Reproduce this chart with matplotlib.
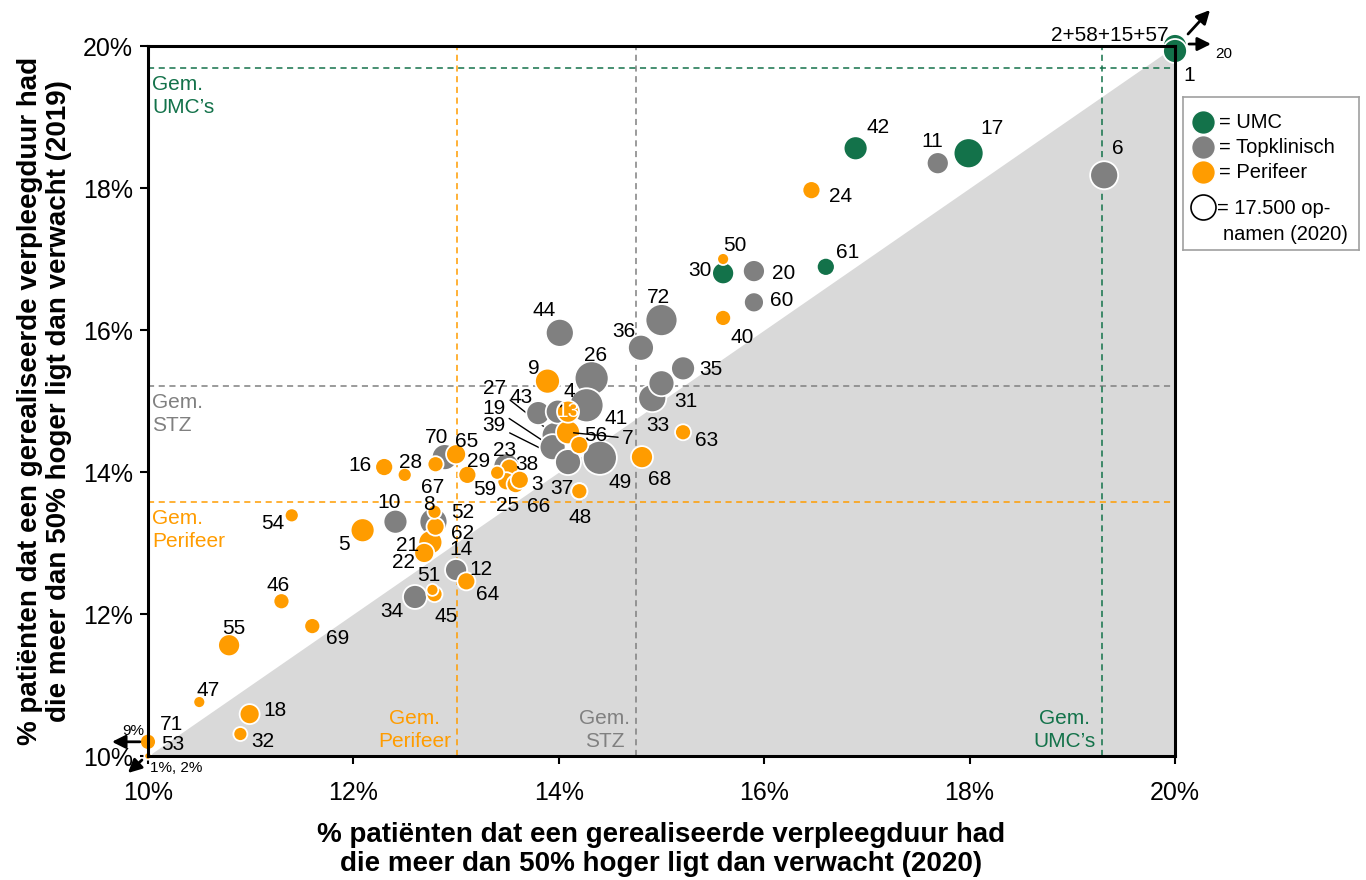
import numpy as np
import matplotlib.pyplot as plt

plt.rcParams["font.family"] = ["Liberation Sans", "DejaVu Sans"]

# --- data: % long stays 2020 (x) vs 2019 (y), admissions 2020, hospital type ---
LABELS = [42, 17, 30, 61,
          11, 6, 20, 60, 72, 44, 36, 26, 35, 31, 33, 43, 41, 4, 27, 19, 39, 49,
          70, 23, 10, 8, 14, 34,
          9, 13, 7, 56, 63, 68, 37, 48, 65, 16, 28, 67, 29, 59, 38, 25, 66, 3,
          5, 52, 62, 21, 22, 12, 45, 51, 54, 46, 69, 55, 47, 18, 32, 24, 50, 40]
X_2020 = [16.89, 17.99, 15.60, 16.60,
          17.69, 19.31, 15.90, 15.90, 15.00, 14.01, 14.80, 14.32, 15.21, 15.00, 14.91,
          13.80, 14.27, 13.99, 13.96, 13.94, 14.09, 14.40,
          12.89, 13.49, 12.41, 12.78, 13.00, 12.60,
          13.89, 14.09, 14.09, 14.20, 15.21, 14.81, 14.20, 14.20, 13.00, 12.30, 12.50,
          12.80, 13.11, 13.40, 13.52, 13.49, 13.58, 13.62,
          12.09, 12.79, 12.80, 12.75, 12.69, 13.10, 12.79, 12.77, 11.40, 11.30, 11.60,
          10.79, 10.50, 10.99, 10.90, 16.46, 15.60, 15.60]
Y_2019 = [18.56, 18.49, 16.80, 16.89,
          18.35, 18.18, 16.83, 16.39, 16.14, 15.96, 15.75, 15.32, 15.46, 15.25, 15.04,
          14.83, 14.94, 14.85, 14.52, 14.35, 14.14, 14.20,
          14.21, 14.08, 13.30, 13.30, 12.62, 12.24,
          15.28, 14.85, 14.56, 14.38, 14.56, 14.21, 13.73, 13.73, 14.25, 14.07, 13.96,
          14.11, 13.96, 13.99, 14.06, 13.87, 13.83, 13.89,
          13.18, 13.44, 13.23, 13.01, 12.86, 12.46, 12.28, 12.34, 13.39, 12.18, 11.83,
          11.56, 10.76, 10.59, 10.31, 17.97, 17.00, 16.17]
ADMISSIONS = [16100, 25200, 13600, 9100,
              13600, 22000, 13600, 11200, 28700, 22000, 18900, 32400, 16100, 18900, 22000,
              16100, 32400, 16100, 18900, 18900, 18900, 32400,
              18900, 18900, 16100, 22000, 13600, 16100,
              17500, 13600, 16100, 9100, 7200, 13600, 7200, 7200, 11200, 9100, 5500,
              7200, 9100, 5500, 9100, 9100, 9100, 9100,
              16100, 5500, 9100, 16100, 11200, 9100, 7200, 4000, 5500, 7200, 7200,
              13600, 4000, 11200, 5500, 9100, 4000, 7200]
TYPES = ["UMC"] * 4 + ["STZ"] * 24 + ["PER"] * 36

# hospitals outside the 10-20% window (drawn on the frame)
TOP_RIGHT_Y = [20.0, 19.93]
TOP_RIGHT_ADM = [16100, 16100]
CORNER_Y = [10.20, 10.0]
CORNER_ADM = [7200, 1500]

# averages per hospital type
AVG_X = {"UMC": 19.29, "STZ": 14.75, "PER": 13.01}
AVG_Y = {"UMC": 19.69, "STZ": 15.21, "PER": 13.58}

COLORS = {"UMC": "#13724a", "STZ": "#808080", "PER": "#ff9c00"}
NAMES = {"UMC": "UMC’s", "STZ": "STZ", "PER": "Perifeer"}
REF_ADM = 17500
REF_S = 324.0  # marker area (pt^2) for 17.500 admissions
FS = 15

# label offsets in pixels (dx, dy-down) relative to the bubble centre
LABEL_OFFSETS = {
    42: (22, -21), 17: (23, -25), 30: (-23, -3), 61: (22, -14), 11: (-6, -22),
    6: (14, -27), 20: (30, 2), 60: (28, -2), 72: (-3, -23), 44: (-16, -22),
    36: (-17, -16), 26: (4, -23), 35: (28, 1), 31: (24, 18), 33: (6, 27),
    9: (-14, -13), 43: (-17, -16), 41: (30, 13), 49: (20, 25), 63: (24, 8),
    68: (18, 22), 37: (-17, -3), 48: (1, 26), 70: (-8, -20), 65: (11, -13),
    16: (-24, -2), 28: (6, -12), 67: (-3, 23), 29: (11, -13), 23: (-2, -16),
    59: (-12, 17), 38: (17, -3), 3: (17, 5), 25: (1, 24), 66: (23, 22),
    10: (-6, -19), 5: (-19, 14), 8: (-5, -17), 52: (28, 1), 62: (27, 7),
    21: (-23, 3), 22: (-21, 10), 14: (5, -20), 12: (15, -12), 64: (21, 13),
    34: (-23, 15), 51: (-4, -14), 45: (12, 22), 54: (-19, 8), 46: (-3, -16),
    69: (25, 12), 55: (5, -17), 47: (9, -12), 18: (25, -4), 32: (22, 8),
    24: (29, 6), 50: (12, -14), 40: (19, 20), 56: (16, -10), 13: (0, 0),
}
# labels connected with a leader line: label -> (dx, dy) of the text, line goes under bubbles
LEADER_UNDER = {27: (-60, -47), 19: (-59, -39), 39: (-74, -37)}
LEADER_OVER = {4: (12, -20), 7: (60, 6)}


def main() -> None:
    fig = plt.figure(figsize=(13.66, 8.8), dpi=100)
    ax = fig.add_axes([0.1083, 0.1409, 0.7519, 0.8068])
    ax.set_xlim(10, 20)
    ax.set_ylim(10, 20)

    ax.fill_between([10, 20], [10, 10], [10, 20], color="#d9d9d9", lw=0, zorder=0)

    # average lines + captions
    for key in ["PER", "STZ", "UMC"]:
        c = COLORS[key]
        ax.axvline(AVG_X[key], color=c, ls=(0, (4, 3)), lw=1.1, zorder=1)
        ax.axhline(AVG_Y[key], color=c, ls=(0, (4, 3)), lw=1.1, zorder=1)
        txt = f"Gem.\n{NAMES[key]}"
        ax.annotate(txt, (10, AVG_Y[key]), xytext=(4, -7), textcoords="offset pixels",
                    ha="left", va="top", color=c, fontsize=15, linespacing=1.25)
        ax.annotate(txt, (AVG_X[key], 10), xytext=(-6, 5), textcoords="offset pixels",
                    ha="right", va="bottom", color=c, fontsize=15, linespacing=1.25,
                    multialignment="center")

    x = np.array(X_2020)
    y = np.array(Y_2019)
    adm = np.array(ADMISSIONS, dtype=float)
    types = np.array(TYPES)
    for key, z in [("STZ", 3), ("UMC", 4), ("PER", 5)]:
        m = types == key
        order = np.argsort(-adm[m], kind="stable")
        ax.scatter(x[m][order], y[m][order], s=adm[m][order] * REF_S / REF_ADM,
                   color=COLORS[key], edgecolors="white", linewidths=1.3, zorder=z)

    # off-window hospitals on the frame
    ax.scatter([20] * 2, TOP_RIGHT_Y, s=np.array(TOP_RIGHT_ADM) * REF_S / REF_ADM,
               color=COLORS["UMC"], edgecolors="white", linewidths=1.3, zorder=6, clip_on=False)
    ax.scatter([10] * 2, CORNER_Y, s=np.array(CORNER_ADM) * REF_S / REF_ADM,
               color=COLORS["PER"], edgecolors="white", linewidths=1.3, zorder=6, clip_on=False)

    lab_kw = dict(textcoords="offset pixels", ha="center", va="center", fontsize=FS,
                  annotation_clip=False)
    pos = {lab: (xi, yi) for lab, xi, yi in zip(LABELS, X_2020, Y_2019)}
    for lab, (dx, dy) in LABEL_OFFSETS.items():
        xy = pos[12] if lab == 64 else pos[lab]
        color = "white" if lab == 13 else "black"
        ax.annotate(str(lab), xy, xytext=(dx, -dy), color=color, zorder=8, **lab_kw)
    for lab, (dx, dy) in LEADER_UNDER.items():
        ax.annotate(str(lab), pos[lab], xytext=(dx, -dy), zorder=2.5,
                    arrowprops=dict(arrowstyle="-", color="black", lw=1.0,
                                    shrinkA=1, shrinkB=0), **lab_kw)
    for lab, (dx, dy) in LEADER_OVER.items():
        ax.annotate(str(lab), pos[lab], xytext=(dx, -dy), zorder=8,
                    arrowprops=dict(arrowstyle="-", color="black", lw=1.0,
                                    shrinkA=1, shrinkB=4), **lab_kw)

    # arrows for hospitals outside the window
    arrow = dict(arrowstyle="-|>,head_length=0.8,head_width=0.4", color="black", lw=2,
                 shrinkA=0, shrinkB=0)
    tr = ax.transData
    inv = tr.inverted()

    def seg(p0, p1):
        a = inv.transform(tr.transform(p0[0:2]) + np.array(p0[2:]) * [1, -1])
        b = inv.transform(tr.transform(p1[0:2]) + np.array(p1[2:]) * [1, -1])
        ax.annotate("", xy=b, xytext=a, arrowprops=arrow, annotation_clip=False, zorder=9)

    seg((20, 20, 13, -12), (20, 20, 35, -36))
    seg((20, 20, 14, -2), (20, 20, 36, -2))
    seg((10, 10.2, -8, 0), (10, 10.2, -36, 0))
    seg((10, 10, -6, 4), (10, 10, -20, 17))
    small = dict(textcoords="offset pixels", fontsize=11, annotation_clip=False, zorder=9)
    big = dict(textcoords="offset pixels", fontsize=FS, annotation_clip=False, zorder=9)
    ax.annotate("20", (20, 20), xytext=(40, -8), ha="left", va="center", **small)
    ax.annotate("2+58+15+57", (20, 20), xytext=(-6, 11), ha="right", va="center", **big)
    ax.annotate("1", (20, 20), xytext=(14, -29), ha="center", va="center", **big)
    ax.annotate("9%", (10, 10.2), xytext=(-15, 11), ha="center", va="center", **small)
    ax.annotate("71", (10, 10.2), xytext=(24, 17), ha="center", va="center", **big)
    ax.annotate("53", (10, 10.2), xytext=(25, -3), ha="center", va="center", **big)
    ax.annotate("1%, 2%", (10, 10), xytext=(2, -12), ha="left", va="center", **small)

    # axes styling
    for side in ax.spines.values():
        side.set_linewidth(2.2)
        side.set_zorder(7)
    ticks = list(range(10, 21, 2))
    ax.set_xticks(ticks)
    ax.set_yticks(ticks)
    ax.set_xticklabels([f"{t}%" for t in ticks], fontsize=18)
    ax.set_yticklabels([f"{t}%" for t in ticks], fontsize=18)
    ax.tick_params(axis="x", length=6, width=1.5, pad=12)
    ax.tick_params(axis="y", length=6, width=1.5, pad=5)
    ax.set_xlabel("% patiënten dat een gerealiseerde verpleegduur had\n"
                  "die meer dan 50% hoger ligt dan verwacht (2020)",
                  fontsize=20, fontweight="bold", labelpad=12, linespacing=1.15)
    ax.set_ylabel("% patiënten dat een gerealiseerde verpleegduur had\n"
                  "die meer dan 50% hoger ligt dan verwacht (2019)",
                  fontsize=20, fontweight="bold", labelpad=8, linespacing=1.15)

    # legend box
    lg = fig.add_axes([1183 / 1366, 1 - 250 / 880, 176 / 1366, 153 / 880])
    lg.set_xlim(0, 176)
    lg.set_ylim(153, 0)
    lg.set_xticks([])
    lg.set_yticks([])
    for side in lg.spines.values():
        side.set_color("#a0a0a0")
        side.set_linewidth(1.2)
    entries = [("UMC", 25, "= UMC"), ("STZ", 50, "= Topklinisch"), ("PER", 75, "= Perifeer")]
    for key, yy, text in entries:
        lg.scatter([20], [yy], s=REF_S * 0.9, color=COLORS[key], edgecolors="white")
        lg.text(36, yy, text, va="center", ha="left", fontsize=14.5)
    lg.scatter([20], [110], s=REF_S, facecolors="white", edgecolors="black", linewidths=1.2)
    lg.text(34, 111, "= 17.500 op-", va="center", ha="left", fontsize=14.5)
    lg.text(40, 137, "namen (2020)", va="center", ha="left", fontsize=14.5)

    fig.savefig("out.png", dpi=100)


if __name__ == "__main__":
    main()
